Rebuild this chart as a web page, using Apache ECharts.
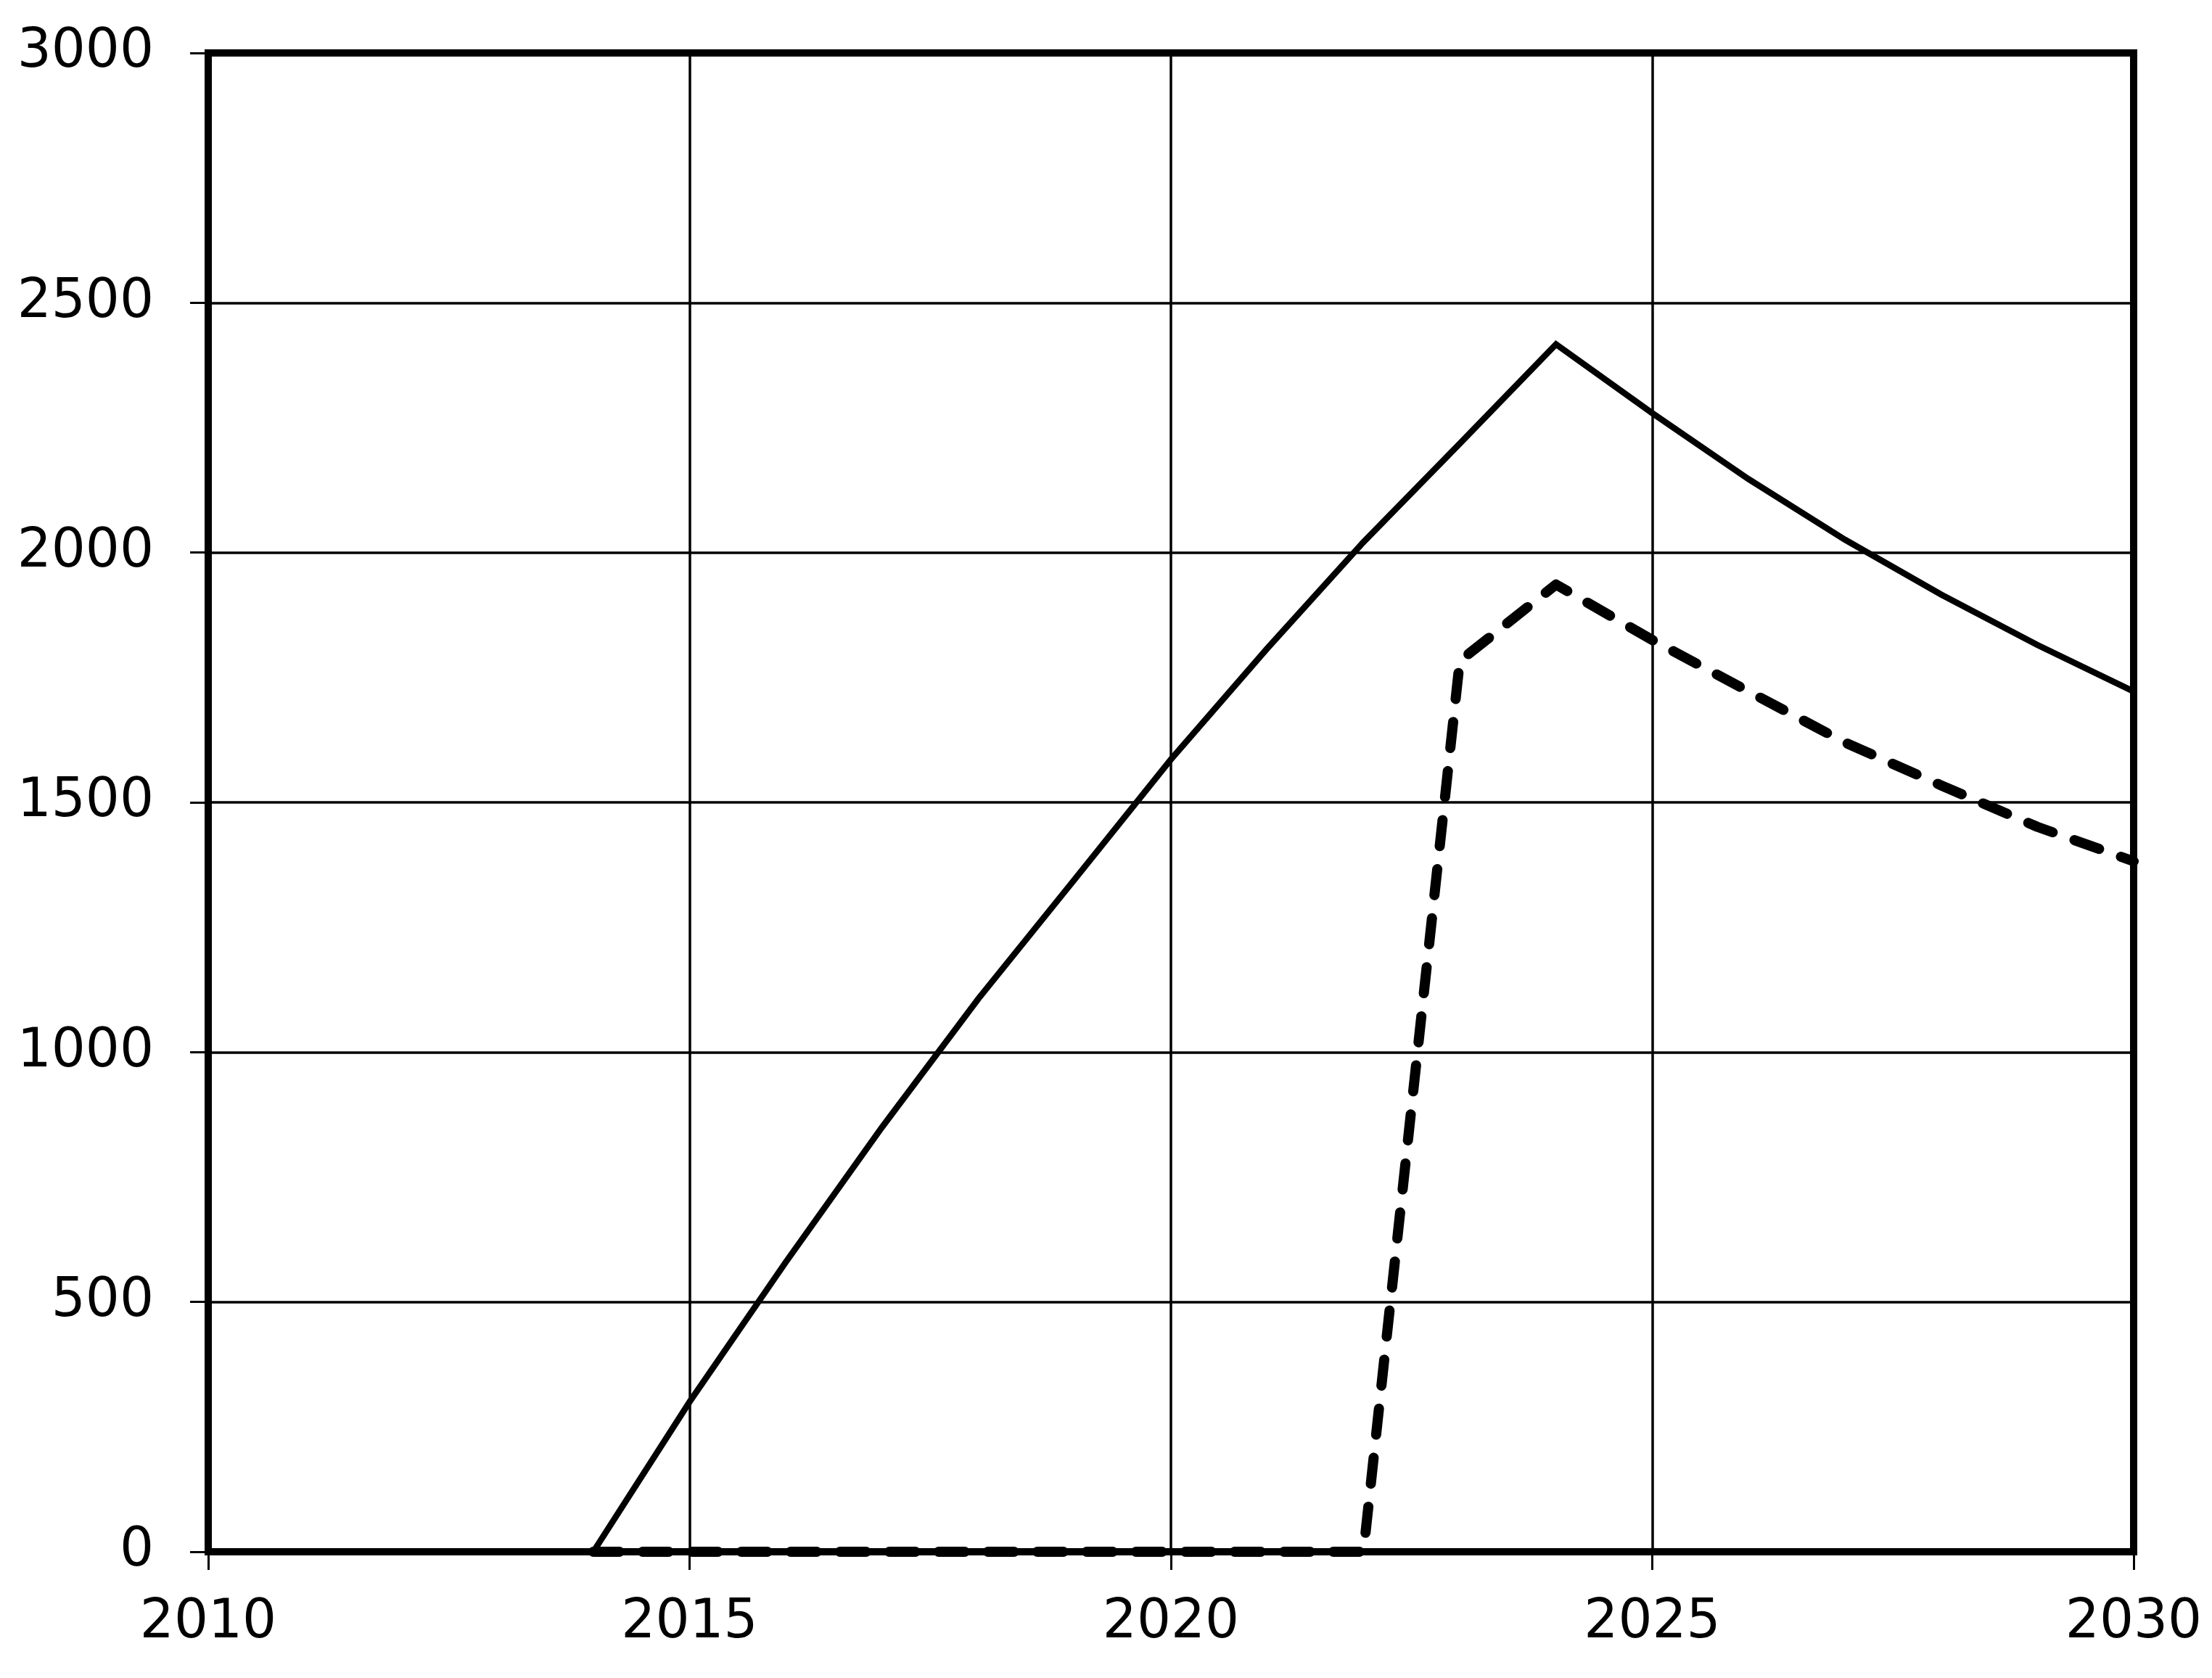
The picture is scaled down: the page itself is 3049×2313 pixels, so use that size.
<!DOCTYPE html>
<html>
<head>
<meta charset="utf-8">
<script src="https://cdn.jsdelivr.net/npm/echarts@6/dist/echarts.min.js"></script>
<style>
html,body{margin:0;padding:0;background:#fff;}
#c{width:3049px;height:2313px;}
</style>
</head>
<body>
<div id="c"></div>
<script>
// Data
const years = [2010, 2011, 2012, 2013, 2014, 2015, 2016, 2017, 2018, 2019, 2020, 2021, 2022, 2023, 2024, 2025, 2026, 2027, 2028, 2029, 2030];
const solidValues = [0, 0, 0, 0, 0, 300, 580, 850, 1107, 1346, 1586, 1808, 2021, 2218, 2417, 2279, 2147, 2026, 1916, 1815, 1722];
const dashedValues = [null, null, null, null, 0, 0, 0, 0, 0, 0, 0, 0, 0, 1783, 1936, 1825, 1722, 1620, 1534, 1451, 1382];
const xTicks = [2010, 2015, 2020, 2025, 2030];
const yTicks = [0, 500, 1000, 1500, 2000, 2500, 3000];

const toPairs = (vals) => years.map((y, i) => [y, vals[i]]);

const chart = echarts.init(document.getElementById('c'), null, {renderer: 'canvas'});
const font = '"DejaVu Sans", Verdana, sans-serif';
chart.setOption({
  animation: false,
  backgroundColor: '#ffffff',
  grid: {
    left: 287, right: 108, top: 73, bottom: 174,
    show: true, borderColor: '#000', borderWidth: 10, backgroundColor: 'transparent'
  },
  xAxis: {
    type: 'value',
    min: xTicks[0], max: xTicks[xTicks.length - 1], interval: 5,
    axisLine: {show: false},
    axisTick: {show: true, inside: false, length: 25, lineStyle: {color: '#000', width: 3}},
    axisLabel: {color: '#000', fontSize: 74, fontFamily: font, margin: 62,
      formatter: (v) => String(v)},
    splitLine: {show: true, lineStyle: {color: '#000', width: 3.5}}
  },
  yAxis: {
    type: 'value',
    min: yTicks[0], max: yTicks[yTicks.length - 1], interval: 500,
    axisLine: {show: false},
    axisTick: {show: true, inside: false, length: 25, lineStyle: {color: '#000', width: 3}},
    axisLabel: {color: '#000', fontSize: 74, fontFamily: font, margin: 75,
      formatter: (v) => String(v)},
    splitLine: {show: true, lineStyle: {color: '#000', width: 3.5}}
  },
  series: [
    {
      type: 'line', data: toPairs(solidValues), symbol: 'none',
      lineStyle: {color: '#000', width: 8.5, join: 'miter'},
      z: 3
    },
    {
      type: 'line', data: toPairs(dashedValues), symbol: 'none', connectNulls: false,
      lineStyle: {color: '#000', width: 14, type: [36, 32], cap: 'round', join: 'round'},
      z: 4
    }
  ]
});
</script>
</body>
</html>
